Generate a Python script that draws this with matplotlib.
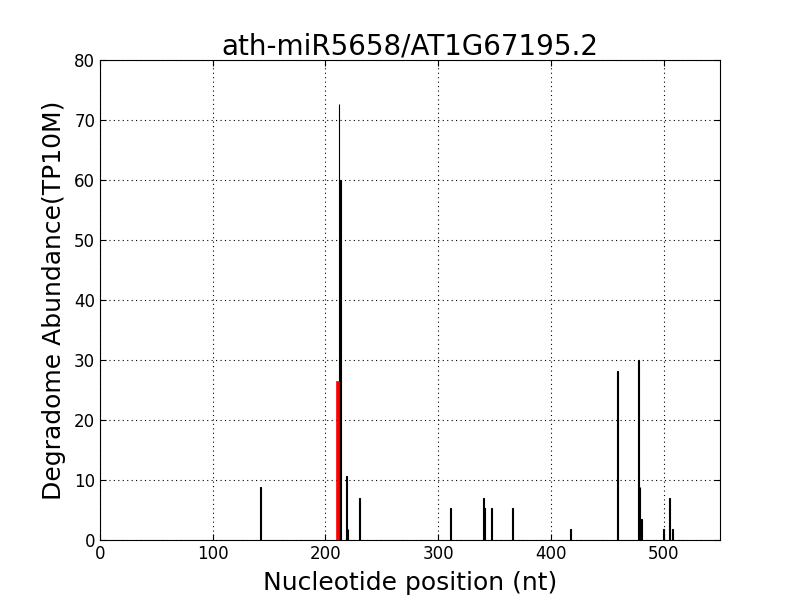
import matplotlib
matplotlib.use("Agg")
import matplotlib.pyplot as plt

# Degradome peaks (position, abundance TP10M)
positions = [142, 212, 213, 219, 220, 230, 311, 340, 341, 347, 366, 417,
             459, 478, 479, 480, 500, 505, 508]
abundance = [8.8, 72.7, 60.0, 10.6, 1.8, 7.0, 5.3, 7.0, 5.3, 5.3, 5.3, 1.8,
             28.2, 30.0, 8.8, 3.5, 1.8, 7.0, 1.8]

# cleavage site highlighted in red
target_pos = [211]
target_val = [26.4]

fig = plt.figure(figsize=(8, 6), dpi=100)
ax = fig.add_axes([0.125, 0.1, 0.775, 0.8])

ax.bar(positions, abundance, width=0.8, color="black", edgecolor="black",
       linewidth=0.8, zorder=3)
ax.bar(target_pos, target_val, width=1.2, color="red", edgecolor="red",
       linewidth=1.2, zorder=3)

ax.set_xlim(0, 550)
ax.set_ylim(0, 80)
ax.set_xticks([0, 100, 200, 300, 400, 500])
ax.set_yticks(range(0, 81, 10))
ax.grid(True, color="black", linestyle=(0, (1, 3)), linewidth=0.8)
ax.set_axisbelow(True)
ax.tick_params(direction="in", labelsize=12, top=True, right=True, length=4)

ax.set_title("ath-miR5658/AT1G67195.2", fontsize=20, pad=4)
ax.set_xlabel("Nucleotide position (nt)", fontsize=18, labelpad=6)
ax.set_ylabel("Degradome Abundance(TP10M)", fontsize=18, labelpad=6)

fig.savefig("out.png", dpi=100)
